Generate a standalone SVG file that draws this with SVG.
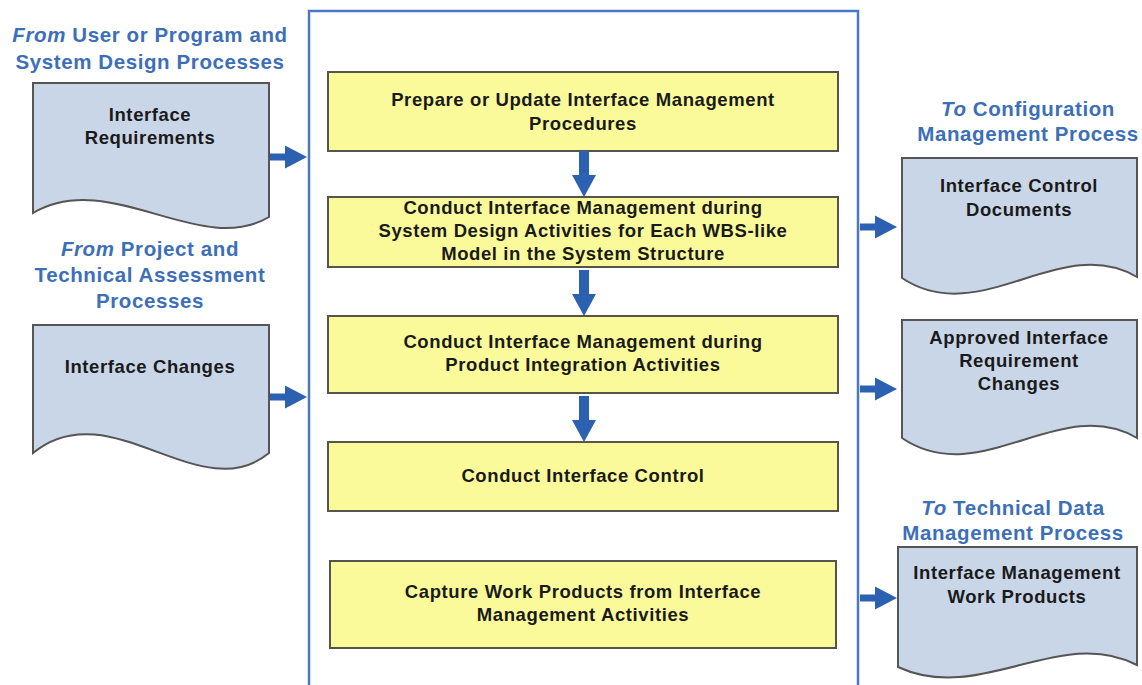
<svg xmlns="http://www.w3.org/2000/svg" width="1142" height="685" viewBox="0 0 1142 685">
<style>
text{font-family:"Liberation Sans",Arial,sans-serif;font-weight:bold;text-anchor:middle}
.h{fill:#3d6fb8;font-size:20.5px;letter-spacing:0.6px}
.t{fill:#1a1a1a;font-size:18.5px;letter-spacing:0.6px}
.i{font-style:italic}
.doc{fill:#c9d6e8;stroke:#555;stroke-width:2}
.box{fill:#fafa9a;stroke:#55554a;stroke-width:2}
.frame{fill:none;stroke:#4a78c2;stroke-width:2.5}
.arr{fill:#2c60b0}
</style>
<defs>
<path id="ra" d="M0,-3.5 H15 V-11.5 L37,0 L15,11.5 V3.5 H0 Z"/>
<path id="da" d="M-5,0 H5 V24 H12 L0,46 L-12,24 H-5 Z"/>
</defs>
<rect width="1142" height="685" fill="#fff"/>
<g id="frame"><path class="frame" d="M309,700 V11 H858 V700"/></g>
<g id="in1">
<text class="h" x="150" y="42"><tspan class="i">From</tspan> User or Program and</text>
<text class="h" x="150" y="69">System Design Processes</text>
<path class="doc" d="M33,83 H269 V217 C200,258 110,168 33,213 Z"/>
<text class="t" x="150" y="121">Interface</text>
<text class="t" x="150" y="144">Requirements</text>
</g>
<g id="in2">
<text class="h" x="150" y="256"><tspan class="i">From</tspan> Project and</text>
<text class="h" x="150" y="282">Technical Assessment</text>
<text class="h" x="150" y="308">Processes</text>
<path class="doc" d="M33,325 H269 V453 C200,510 110,390 33,453 Z"/>
<text class="t" x="150" y="373">Interface Changes</text>
</g>
<g id="p1"><rect class="box" x="328" y="72" width="510" height="79"/>
<text class="t" x="583" y="106">Prepare or Update Interface Management</text>
<text class="t" x="583" y="130">Procedures</text></g>
<g id="p2"><rect class="box" x="328" y="197" width="510" height="70"/>
<text class="t" x="583" y="214">Conduct Interface Management during</text>
<text class="t" x="583" y="237">System Design Activities for Each WBS-like</text>
<text class="t" x="583" y="260">Model in the System Structure</text></g>
<g id="p3"><rect class="box" x="328" y="316" width="510" height="77"/>
<text class="t" x="583" y="348">Conduct Interface Management during</text>
<text class="t" x="583" y="371">Product Integration Activities</text></g>
<g id="p4"><rect class="box" x="328" y="442" width="510" height="69"/>
<text class="t" x="583" y="482">Conduct Interface Control</text></g>
<g id="p5"><rect class="box" x="330" y="561" width="506" height="87"/>
<text class="t" x="583" y="598">Capture Work Products from Interface</text>
<text class="t" x="583" y="621">Management Activities</text></g>
<g id="out1">
<text class="h" x="1028" y="116"><tspan class="i">To</tspan> Configuration</text>
<text class="h" x="1028" y="141">Management Process</text>
<path class="doc" d="M902,158 H1137 V277 C1060,232 980,330 902,278 Z"/>
<text class="t" x="1019" y="192">Interface Control</text>
<text class="t" x="1019" y="216">Documents</text>
</g>
<g id="out2">
<path class="doc" d="M902,320 H1137 V438 C1060,393 980,491 902,438 Z"/>
<text class="t" x="1019" y="344">Approved Interface</text>
<text class="t" x="1019" y="367">Requirement</text>
<text class="t" x="1019" y="390">Changes</text>
</g>
<g id="out3">
<text class="h" x="1013" y="515"><tspan class="i">To</tspan> Technical Data</text>
<text class="h" x="1013" y="540">Management Process</text>
<path class="doc" d="M898,547 H1137 V665 C1060,625 980,705 898,667 Z"/>
<text class="t" x="1017" y="579">Interface Management</text>
<text class="t" x="1017" y="603">Work Products</text>
</g>
<g id="connectors" class="arr">
<use href="#ra" x="270" y="157"/>
<use href="#ra" x="270" y="397"/>
<use href="#ra" x="860" y="227"/>
<use href="#ra" x="860" y="389"/>
<use href="#ra" x="860" y="598"/>
<use href="#da" x="584" y="151"/>
<use href="#da" x="584" y="270"/>
<use href="#da" x="584" y="396"/>
</g>
</svg>
